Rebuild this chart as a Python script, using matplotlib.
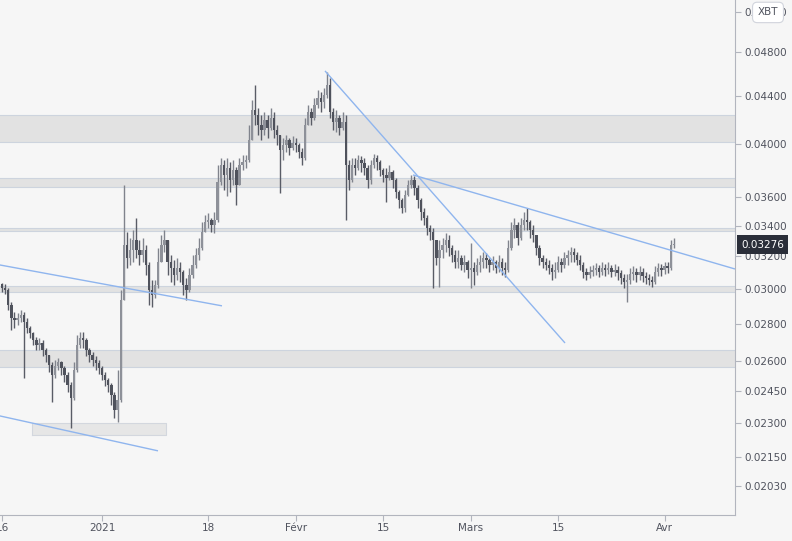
import numpy as np
import pandas as pd
import matplotlib
matplotlib.use("Agg")
import matplotlib.pyplot as plt
import matplotlib.dates as mdates
from matplotlib.transforms import blended_transform_factory
from matplotlib.ticker import NullLocator

# 12h candles ETH/XBT, starting 2020-12-16 00:00
start = "2020-12-16 00:00"
first_open = 0.03030
closes = [
    0.03006, 0.02994, 0.02906, 0.02833, 0.02821, 0.02833, 0.02849, 0.02810, 0.02777, 0.02749, 0.02711, 0.02685,
    0.02695, 0.02658, 0.02632, 0.02580, 0.02530, 0.02575, 0.02596, 0.02565, 0.02530, 0.02480, 0.02417, 0.02555,
    0.02685, 0.02722, 0.02711, 0.02658, 0.02632, 0.02606, 0.02591, 0.02565, 0.02530, 0.02505, 0.02480, 0.02431,
    0.02360, 0.02407, 0.02935, 0.03274, 0.03190, 0.03241, 0.03306, 0.03241, 0.03209, 0.03241, 0.03146, 0.02994,
    0.02965, 0.03024, 0.03165, 0.03274, 0.03306, 0.03165, 0.03128, 0.03085, 0.03128, 0.03103, 0.03024, 0.02994,
    0.03085, 0.03146, 0.03209, 0.03254, 0.03359, 0.03426, 0.03440, 0.03406, 0.03440, 0.03709, 0.03837, 0.03761,
    0.03814, 0.03724, 0.03799, 0.03687, 0.03837, 0.03859, 0.03875, 0.04031, 0.04279, 0.04237, 0.04153, 0.04112,
    0.04195, 0.04129, 0.04211, 0.04112, 0.04072, 0.03952, 0.03992, 0.04031, 0.03968, 0.04008, 0.03992, 0.03937,
    0.03890, 0.04153, 0.04262, 0.04211, 0.04321, 0.04382, 0.04347, 0.04408, 0.04496, 0.04262, 0.04178, 0.04211,
    0.04129, 0.04178, 0.03837, 0.03724, 0.03837, 0.03814, 0.03875, 0.03852, 0.03814, 0.03724, 0.03837, 0.03890,
    0.03859, 0.03799, 0.03761, 0.03739, 0.03784, 0.03724, 0.03637, 0.03579, 0.03523, 0.03615, 0.03687, 0.03724,
    0.03665, 0.03579, 0.03495, 0.03454, 0.03386, 0.03359, 0.03306, 0.03190, 0.03241, 0.03274, 0.03306, 0.03254,
    0.03209, 0.03165, 0.03190, 0.03146, 0.03165, 0.03115, 0.03128, 0.03103, 0.03146, 0.03165, 0.03190, 0.03178,
    0.03146, 0.03165, 0.03128, 0.03165, 0.03128, 0.03115, 0.03254, 0.03372, 0.03406, 0.03319, 0.03406, 0.03440,
    0.03426, 0.03372, 0.03339, 0.03254, 0.03190, 0.03165, 0.03146, 0.03128, 0.03103, 0.03115, 0.03165, 0.03146,
    0.03190, 0.03209, 0.03228, 0.03209, 0.03178, 0.03146, 0.03103, 0.03085, 0.03103, 0.03115, 0.03128, 0.03103,
    0.03128, 0.03115, 0.03128, 0.03103, 0.03115, 0.03097, 0.03066, 0.03042, 0.03054, 0.03091, 0.03103, 0.03085,
    0.03103, 0.03078, 0.03066, 0.03054, 0.03042, 0.03103, 0.03128, 0.03115, 0.03140, 0.03128, 0.03274, 0.03276,
]
highs = [
    0.03036, 0.03030, 0.03006, 0.02924, 0.02866, 0.02861, 0.02878, 0.02866, 0.02833, 0.02788, 0.02755, 0.02727,
    0.02722, 0.02711, 0.02669, 0.02632, 0.02596, 0.02606, 0.02616, 0.02601, 0.02575, 0.02545, 0.02495, 0.02596,
    0.02738, 0.02755, 0.02755, 0.02722, 0.02669, 0.02648, 0.02627, 0.02606, 0.02575, 0.02545, 0.02515, 0.02490,
    0.02446, 0.02555, 0.02994, 0.03687, 0.03359, 0.03319, 0.03372, 0.03454, 0.03306, 0.03319, 0.03274, 0.03165,
    0.03054, 0.03054, 0.03254, 0.03339, 0.03372, 0.03306, 0.03209, 0.03178, 0.03190, 0.03165, 0.03115, 0.03066,
    0.03128, 0.03209, 0.03254, 0.03319, 0.03426, 0.03474, 0.03488, 0.03454, 0.03495, 0.03837, 0.03890, 0.03875,
    0.03890, 0.03859, 0.03875, 0.03821, 0.03890, 0.03913, 0.03913, 0.04153, 0.04364, 0.04496, 0.04296, 0.04237,
    0.04262, 0.04237, 0.04296, 0.04262, 0.04153, 0.04072, 0.04048, 0.04072, 0.04048, 0.04064, 0.04048, 0.04008,
    0.03968, 0.04211, 0.04321, 0.04296, 0.04382, 0.04452, 0.04434, 0.04469, 0.04614, 0.04559, 0.04296, 0.04279,
    0.04237, 0.04262, 0.04237, 0.03875, 0.03890, 0.03890, 0.03913, 0.03906, 0.03890, 0.03837, 0.03875, 0.03921,
    0.03913, 0.03875, 0.03814, 0.03814, 0.03837, 0.03799, 0.03739, 0.03651, 0.03593, 0.03651, 0.03724, 0.03761,
    0.03754, 0.03687, 0.03593, 0.03523, 0.03474, 0.03406, 0.03386, 0.03306, 0.03306, 0.03319, 0.03352, 0.03339,
    0.03274, 0.03241, 0.03241, 0.03209, 0.03209, 0.03178, 0.03287, 0.03165, 0.03190, 0.03209, 0.03228, 0.03222,
    0.03190, 0.03203, 0.03178, 0.03209, 0.03190, 0.03165, 0.03306, 0.03426, 0.03454, 0.03426, 0.03454, 0.03495,
    0.03523, 0.03440, 0.03406, 0.03339, 0.03274, 0.03209, 0.03190, 0.03178, 0.03153, 0.03165, 0.03203, 0.03190,
    0.03228, 0.03241, 0.03261, 0.03254, 0.03228, 0.03209, 0.03165, 0.03128, 0.03140, 0.03146, 0.03159, 0.03146,
    0.03165, 0.03153, 0.03165, 0.03146, 0.03153, 0.03140, 0.03115, 0.03091, 0.03091, 0.03128, 0.03140, 0.03128,
    0.03140, 0.03128, 0.03103, 0.03091, 0.03078, 0.03140, 0.03159, 0.03153, 0.03165, 0.03165, 0.03306, 0.03319,
]
lows = [
    0.02983, 0.02971, 0.02878, 0.02766, 0.02777, 0.02794, 0.02810, 0.02515, 0.02749, 0.02722, 0.02685, 0.02658,
    0.02658, 0.02627, 0.02596, 0.02545, 0.02398, 0.02515, 0.02555, 0.02530, 0.02495, 0.02446, 0.02277, 0.02407,
    0.02545, 0.02669, 0.02669, 0.02627, 0.02596, 0.02575, 0.02555, 0.02535, 0.02505, 0.02476, 0.02446, 0.02384,
    0.02323, 0.02304, 0.02398, 0.02935, 0.03128, 0.03146, 0.03165, 0.03190, 0.03146, 0.03165, 0.03085, 0.02906,
    0.02895, 0.02948, 0.03006, 0.03190, 0.03228, 0.03085, 0.03042, 0.03024, 0.03054, 0.03042, 0.02965, 0.02935,
    0.02983, 0.03066, 0.03128, 0.03178, 0.03241, 0.03359, 0.03386, 0.03359, 0.03352, 0.03426, 0.03687, 0.03651,
    0.03608, 0.03637, 0.03687, 0.03544, 0.03687, 0.03799, 0.03814, 0.03859, 0.04031, 0.04153, 0.04072, 0.04031,
    0.04072, 0.04048, 0.04112, 0.04048, 0.03992, 0.03629, 0.03875, 0.03937, 0.03913, 0.03952, 0.03937, 0.03890,
    0.03837, 0.03875, 0.04153, 0.04153, 0.04195, 0.04296, 0.04262, 0.04296, 0.04382, 0.04211, 0.04112, 0.04096,
    0.04072, 0.04112, 0.03440, 0.03651, 0.03709, 0.03761, 0.03799, 0.03784, 0.03761, 0.03665, 0.03695, 0.03814,
    0.03799, 0.03754, 0.03709, 0.03565, 0.03724, 0.03665, 0.03593, 0.03523, 0.03488, 0.03495, 0.03608, 0.03665,
    0.03615, 0.03523, 0.03440, 0.03406, 0.03339, 0.03306, 0.03006, 0.03146, 0.03012, 0.03190, 0.03228, 0.03203,
    0.03165, 0.03128, 0.03128, 0.03115, 0.03103, 0.03066, 0.03006, 0.03024, 0.03085, 0.03103, 0.03128, 0.03128,
    0.03103, 0.03115, 0.03097, 0.03103, 0.03085, 0.03072, 0.03103, 0.03241, 0.03319, 0.03274, 0.03306, 0.03372,
    0.03372, 0.03319, 0.03293, 0.03209, 0.03146, 0.03128, 0.03115, 0.03091, 0.03054, 0.03066, 0.03103, 0.03103,
    0.03128, 0.03146, 0.03165, 0.03165, 0.03146, 0.03115, 0.03066, 0.03054, 0.03066, 0.03078, 0.03085, 0.03072,
    0.03085, 0.03078, 0.03091, 0.03072, 0.03078, 0.03054, 0.03030, 0.03006, 0.02924, 0.03030, 0.03054, 0.03042,
    0.03054, 0.03042, 0.03030, 0.03024, 0.03012, 0.03030, 0.03078, 0.03078, 0.03091, 0.03097, 0.03115, 0.03254,
]

# horizontal zones (price from, price to)
zones = [(0.04015, 0.04237), (0.03673, 0.03739), (0.03366, 0.03384), (0.02983, 0.03018), (0.02570, 0.02658)]
# small box bottom left
box_dates = ["2020-12-20 20:00", "2021-01-11 04:30"]
box_prices = [0.02246, 0.02300]
# trend lines: (date, price) pairs
trend_lines = [
    (["2020-12-15 16:00", "2021-01-20 04:48"], [0.03146, 0.02901]),
    (["2020-12-15 16:00", "2021-01-09 23:00"], [0.02332, 0.02176]),
    (["2021-02-05 16:20", "2021-03-16 02:00"], [0.04623, 0.02695]),
    (["2021-02-19 18:15", "2021-04-12 06:45"], [0.03761, 0.03121]),
]
y_ticks = [0.0203, 0.0215, 0.0230, 0.0245, 0.0260, 0.0280, 0.0300, 0.0320, 0.0340, 0.0360, 0.0400, 0.0440, 0.0480, 0.0520]
x_tick_dates = ["2020-12-16", "2021-01-01", "2021-01-18", "2021-02-01", "2021-02-15", "2021-03-01", "2021-03-15", "2021-04-01"]
x_tick_labels = ["16", "2021", "18", "Févr", "15", "Mars", "15", "Avr"]
last_price = closes[-1]

bg = "#f6f6f6"
axis_col = "#b2b5be"
text_col = "#50535e"
line_blue = "#8fb5ee"

plt.rcParams['font.family'] = ['DejaVu Sans']

fig = plt.figure(figsize=(7.92, 5.41), dpi=100)
fig.patch.set_facecolor(bg)
ax = fig.add_axes([0, 26 / 541, 735 / 792, 515 / 541])
ax.set_facecolor(bg)

t = mdates.date2num(pd.date_range(start, periods=len(closes), freq="12h").to_pydatetime())
c = np.array(closes)
o = np.r_[first_open, c[:-1]]
h = np.maximum(np.array(highs), np.maximum(o, c))
lo = np.minimum(np.array(lows), np.minimum(o, c))
up = c >= o

for p0, p1 in zones:
    ax.axhspan(p0, p1, color="#e2e2e2", zorder=1, lw=0)
    ax.axhline(p0, color="#cdd4de", lw=0.8, zorder=1.1)
    ax.axhline(p1, color="#cdd4de", lw=0.8, zorder=1.1)

bx = mdates.date2num(pd.to_datetime(box_dates).to_pydatetime())
ax.fill_between(bx, box_prices[0], box_prices[1], color="#e6e6e6", zorder=1, lw=0)
ax.plot([bx[0], bx[1], bx[1], bx[0], bx[0]],
        [box_prices[0], box_prices[0], box_prices[1], box_prices[1], box_prices[0]],
        color="#d3d7de", lw=0.8, zorder=1.1)

# candles
wick_col = np.where(up, "#80838c", "#595c66")
ax.vlines(t, lo, h, colors=wick_col, lw=1.0, zorder=3)
body_lo = np.minimum(o, c)
body_h = np.maximum(np.abs(c - o), 0.00003)
ax.bar(t, body_h, bottom=body_lo, width=0.38, color=np.where(up, "#8e9199", "#4f525c"),
       lw=0, zorder=3.2)

for dates, prices in trend_lines:
    xs = mdates.date2num(pd.to_datetime(dates).to_pydatetime())
    ax.plot(xs, prices, color=line_blue, lw=1.0, zorder=4, solid_capstyle="butt")

ax.set_yscale("log")
ax.set_ylim(0.01916, 0.05321)
x0 = mdates.date2num(pd.Timestamp("2020-12-15 16:20").to_pydatetime())
x1 = mdates.date2num(pd.Timestamp("2021-04-12 06:43").to_pydatetime())
ax.set_xlim(x0, x1)

ax.yaxis.tick_right()
ax.set_yticks(y_ticks)
ax.set_yticklabels(["%.5f" % v for v in y_ticks])
ax.yaxis.set_minor_locator(NullLocator())
ax.set_xticks(mdates.date2num(pd.to_datetime(x_tick_dates).to_pydatetime()))
ax.set_xticklabels(x_tick_labels)
ax.xaxis.set_minor_locator(NullLocator())
ax.tick_params(axis="both", which="both", length=4, width=0.8, color=axis_col,
               labelsize=7.5, labelcolor=text_col)
ax.tick_params(axis="y", pad=3)
ax.tick_params(axis="x", pad=2)

for side in ["top", "left"]:
    ax.spines[side].set_visible(False)
for side in ["right", "bottom"]:
    ax.spines[side].set_color(axis_col)
    ax.spines[side].set_linewidth(0.8)

# last price label
tr = blended_transform_factory(ax.transAxes, ax.transData)
ax.text(1.008, last_price, "%.5f" % last_price, transform=tr, ha="left", va="center",
        fontsize=7.5, color="white", clip_on=False, zorder=10,
        bbox=dict(boxstyle="square,pad=0.4", fc="#2a2e39", ec="none"))

# currency badge drawn over the top tick label
fig.text(0.9697, 0.977, "XBT", ha="center", va="center", fontsize=7.5, color=text_col, zorder=10,
         bbox=dict(boxstyle="round,pad=0.5,rounding_size=0.45", fc="white", ec="#d1d4dc", lw=0.8))

fig.savefig("out.png", dpi=100, facecolor=bg)
